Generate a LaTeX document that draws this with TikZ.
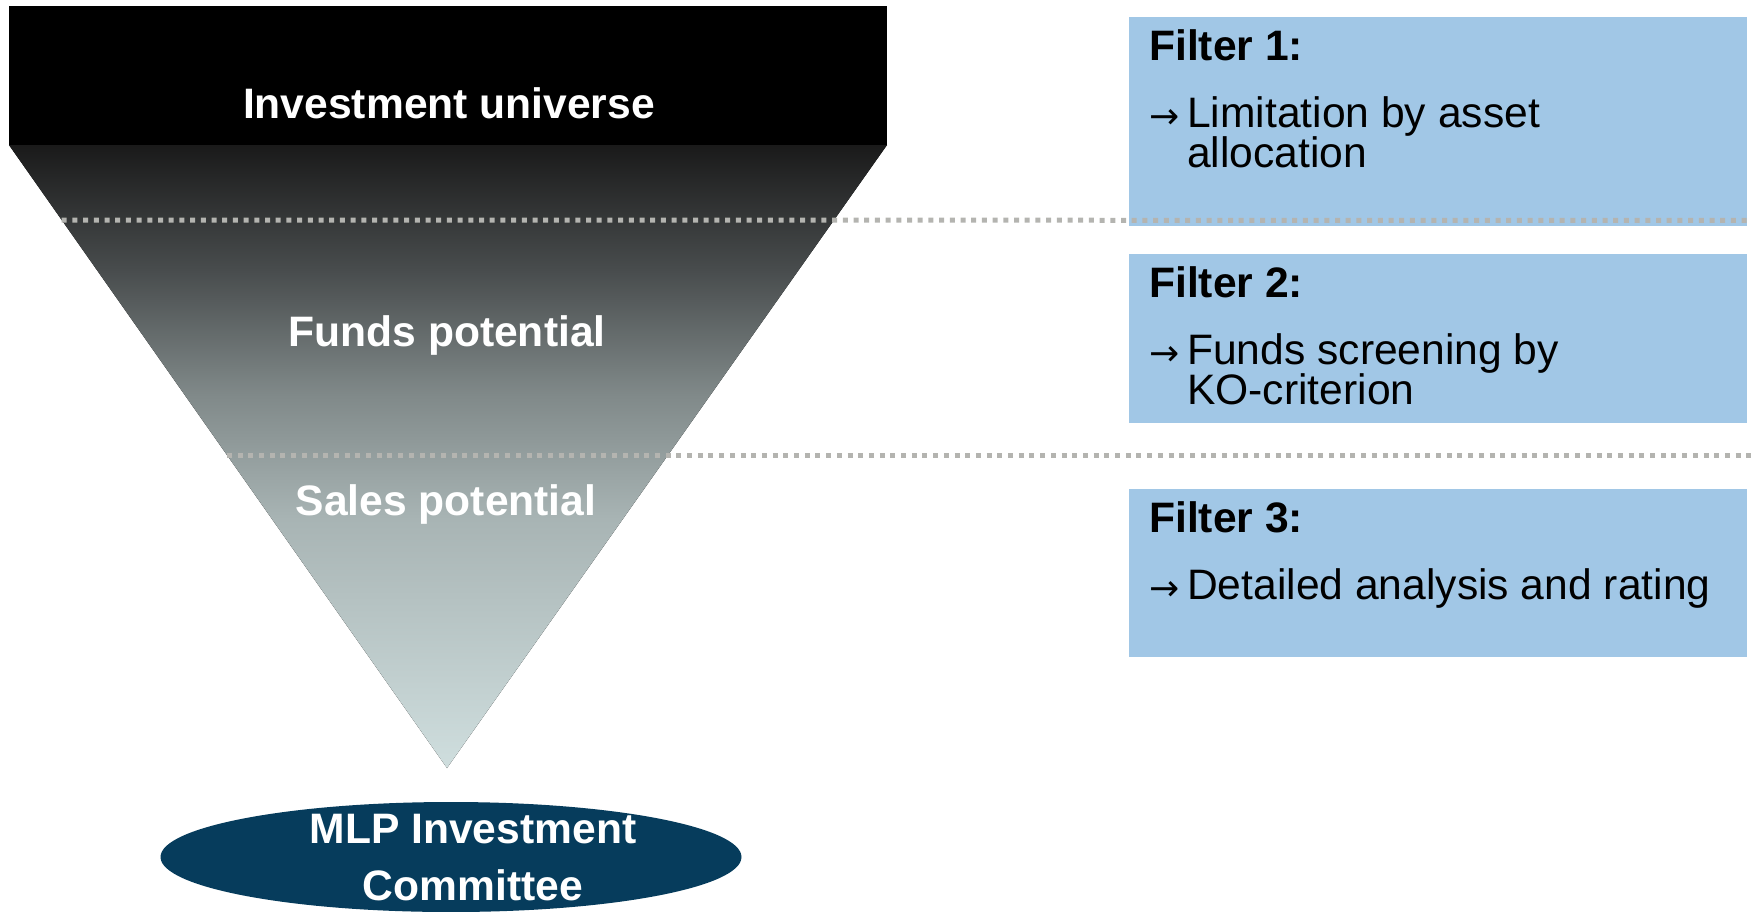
\documentclass[tikz,border=0pt]{standalone}
\usepackage{fontspec}
\setmainfont{Liberation Sans}
\newfontfamily\arrowfont{DejaVu Sans}
\usetikzlibrary{shapes.geometric,calc}
\definecolor{boxblue}{RGB}{161,199,230}
\definecolor{dotgray}{RGB}{180,180,176}
\definecolor{ellblue}{RGB}{6,60,92}
\definecolor{ftop}{RGB}{26,26,26}
\definecolor{fa}{RGB}{72,76,77}
\definecolor{fb}{RGB}{128,137,137}
\definecolor{fc}{RGB}{168,180,180}
\definecolor{fbot}{RGB}{207,222,222}
\pgfdeclareverticalshading{funnelshade}{100bp}{color(0bp)=(fbot); color(25bp)=(fbot); color(45bp)=(fc); color(55bp)=(fb); color(65bp)=(fa); color(75bp)=(ftop); color(100bp)=(ftop)}
\tikzset{
  filterbox/.style={fill=boxblue, inner sep=0, anchor=north west, minimum width=618pt},
  dotline/.style={draw=dotgray, line width=5pt, dash pattern=on 5pt off 5.7pt},
  funnellabel/.style={anchor=base, inner sep=0, text=white, font=\bfseries\fontsize{42.6}{42.6}\selectfont},
  filterhead/.style={anchor=base west, inner sep=0, font=\bfseries\fontsize{42.6}{42.6}\selectfont},
  filterarrow/.style={anchor=base west, inner sep=0, font=\arrowfont\fontsize{36}{36}\selectfont},
  filtertext/.style={anchor=base west, inner sep=0, font=\fontsize{42.6}{40}\selectfont}
}
\begin{document}
\begin{tikzpicture}[x=1pt,y=-1pt]
\path[use as bounding box] (0,0) rectangle (1753,911);
% funnel
\coordinate (tl) at (9,145);
\coordinate (tr) at (887,145);
\coordinate (apex) at (447,768);
\fill[black] (9,6) rectangle (tr);
\fill[shading=funnelshade] (tl) -- (tr) -- (apex) -- cycle;
% filter boxes
\node[filterbox, minimum height=209pt] (f1) at (1129,17) {};
\node[filterbox, minimum height=169pt] (f2) at (1129,254) {};
\node[filterbox, minimum height=168pt] (f3) at (1129,489) {};
% dotted separators
\coordinate (d1) at ($(tl)!{75/623}!(apex)$);
\coordinate (d2) at ($(tl)!{310/623}!(apex)$);
\coordinate (e1) at ($(f1.south east)+(0,-6)$);
\coordinate (e2) at (1753,455);
\draw[dotline] (d1) -- (e1);
\draw[dotline] (d2) -- (d2 -| e2);
% funnel labels
\node[funnellabel] (universe) at (449,118) {Investment universe};
\node[funnellabel] (funds) at (447,346) {Funds potential};
\node[funnellabel] (sales) at (446,515) {Sales potential};
% filter texts
\node[filterhead] (h1) at (1149,60) {Filter 1:};
\node[filterarrow] (a1) at (1149,128) {→};
\node[filtertext] (t1) at (1187,127) {\parbox[t]{540pt}{Limitation by asset\\allocation}};
\node[filterhead] (h2) at (1149,297) {Filter 2:};
\node[filterarrow] (a2) at (1149,365) {→};
\node[filtertext] (t2) at (1187,364) {\parbox[t]{540pt}{Funds screening by\\KO-criterion}};
\node[filterhead] (h3) at (1149,532) {Filter 3:};
\node[filterarrow] (a3) at (1149,600) {→};
\node[filtertext] (t3) at (1187,599) {\parbox[t]{540pt}{Detailed analysis and rating}};
% committee
\node[ellipse, fill=ellblue, inner sep=0, minimum width=581pt, minimum height=110pt] (committee) at (451,857) {};
\node[anchor=base, inner sep=0, text=white, font=\bfseries\fontsize{42.6}{57}\selectfont] (committeetext) at (473,843) {\parbox[t]{500pt}{\centering MLP Investment\\Committee}};
\end{tikzpicture}
\end{document}
